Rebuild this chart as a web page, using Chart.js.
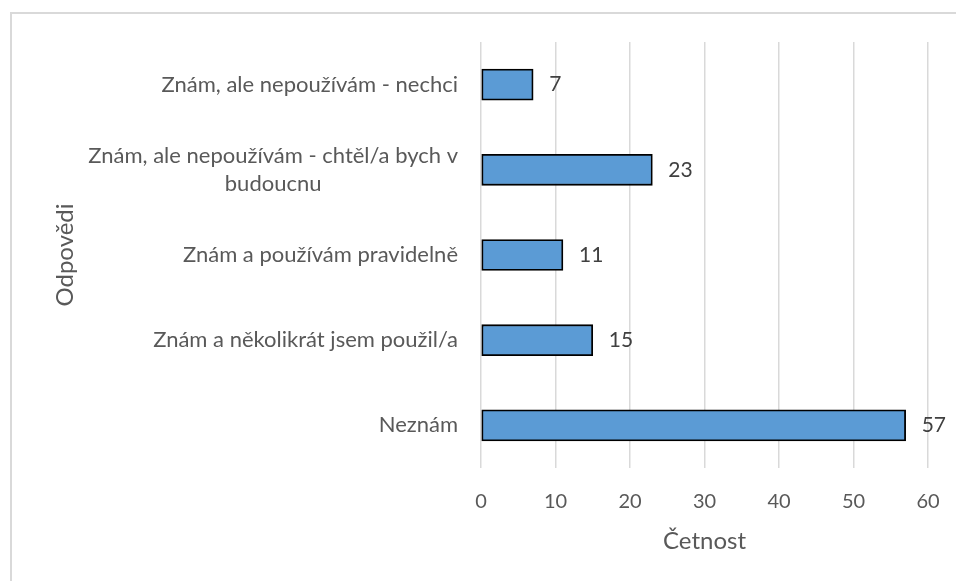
<!DOCTYPE html>
<html lang="cs">
<head>
    <meta charset="UTF-8">
    <title>Četnost odpovědí</title>
    <script src="https://cdn.jsdelivr.net/npm/chart.js"></script>
    <style>
        body {
            margin: 0;
            padding: 0;
            background: #fff;
            font-family: 'Lato', sans-serif;
        }
        .frame {
            position: absolute;
            left: 10px;
            top: 12px;
            right: 0;
            bottom: 0;
            border-left: 2px solid #d9d9d9;
            border-top: 2px solid #d9d9d9;
        }
        #chart {
            position: absolute;
            left: 0;
            top: 0;
        }
    </style>
</head>
<body>
    <div class="frame"></div>
    <canvas id="chart" width="956" height="581"></canvas>

    <script>
        // categories top to bottom (multi-line label = array)
        const categories = [
            ['Znám, ale nepoužívám - nechci'],
            ['Znám, ale nepoužívám - chtěl/a bych v', 'budoucnu'],
            ['Znám a používám pravidelně'],
            ['Znám a několikrát jsem použil/a'],
            ['Neznám']
        ];
        const counts = [7, 23, 11, 15, 57];
        const xTicks = [0, 10, 20, 30, 40, 50, 60];

        const textColor = '#595959';

        // draws the category labels, wrapped lines centred like Excel does
        const categoryLabels = {
            id: 'categoryLabels',
            afterDraw(chart) {
                const ctx = chart.ctx;
                const y = chart.scales.y;
                const rightX = chart.chartArea.left - 23;
                ctx.save();
                ctx.font = '22px Lato';
                ctx.fillStyle = textColor;
                ctx.textBaseline = 'middle';
                categories.forEach((lines, i) => {
                    const cy = y.getPixelForValue(i);
                    const lh = 28;
                    const widest = Math.max(...lines.map(l => ctx.measureText(l).width));
                    const center = rightX - widest / 2;
                    lines.forEach((line, j) => {
                        const ly = cy + (j - (lines.length - 1) / 2) * lh;
                        if (lines.length > 1) {
                            ctx.textAlign = 'center';
                            ctx.fillText(line, center, ly);
                        } else {
                            ctx.textAlign = 'right';
                            ctx.fillText(line, rightX, ly);
                        }
                    });
                });
                ctx.restore();
            }
        };

        // value labels at the end of each bar
        const valueLabels = {
            id: 'valueLabels',
            afterDatasetsDraw(chart) {
                const ctx = chart.ctx;
                const meta = chart.getDatasetMeta(0);
                ctx.save();
                ctx.font = '21px Lato';
                ctx.fillStyle = '#404040';
                ctx.textAlign = 'left';
                ctx.textBaseline = 'middle';
                meta.data.forEach((bar, i) => {
                    ctx.fillText(String(counts[i]), bar.x + 16, bar.y);
                });
                ctx.restore();
            }
        };

        new Chart(document.getElementById('chart'), {
            type: 'bar',
            data: {
                labels: categories.map(c => c.join(' ')),
                datasets: [{
                    data: counts,
                    backgroundColor: '#5b9bd5',
                    borderColor: '#000000',
                    borderWidth: 1.8,
                    borderSkipped: false,
                    barThickness: 31
                }]
            },
            options: {
                indexAxis: 'y',
                responsive: false,
                animation: false,
                devicePixelRatio: 1,
                layout: {
                    padding: { top: 42, right: 28, left: 20, bottom: 0 }
                },
                plugins: {
                    legend: { display: false },
                    tooltip: { enabled: false }
                },
                scales: {
                    x: {
                        min: 0,
                        max: 60,
                        afterBuildTicks(scale) {
                            scale.ticks = xTicks.map(v => ({ value: v }));
                        },
                        afterFit(scale) {
                            scale.height = 113;
                            scale.paddingLeft = 0;
                            scale.paddingRight = 0;
                        },
                        grid: {
                            color: '#d9d9d9',
                            lineWidth: 1.5,
                            drawTicks: false
                        },
                        border: { display: false },
                        ticks: {
                            color: textColor,
                            font: { family: 'Lato', size: 20 },
                            padding: 22
                        },
                        title: {
                            display: true,
                            text: 'Četnost',
                            color: textColor,
                            font: { family: 'Lato', size: 24 },
                            padding: { top: 0, bottom: 25 }
                        }
                    },
                    y: {
                        afterFit(scale) {
                            scale.width = 461;
                        },
                        grid: { display: false },
                        border: { display: false },
                        ticks: { display: false },
                        title: {
                            display: true,
                            text: 'Odpovědi',
                            color: textColor,
                            font: { family: 'Lato', size: 24 },
                            padding: { top: 31, bottom: 0 }
                        }
                    }
                }
            },
            plugins: [categoryLabels, valueLabels]
        });
    </script>
</body>
</html>
